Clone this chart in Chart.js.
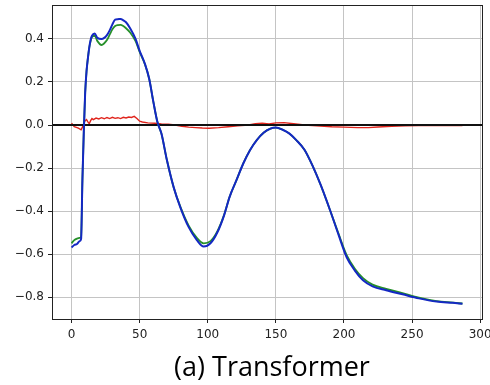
<!DOCTYPE html>
<html>
<head>
<meta charset="utf-8">
<script src="https://cdn.jsdelivr.net/npm/chart.js@4/dist/chart.umd.min.js"></script>
<style>
  html, body { margin: 0; padding: 0; background: #fff; overflow: hidden; }
  #wrap { position: relative; width: 490px; height: 385px; }
  #caption {
    position: absolute; left: 0; top: 351px; width: 544px;
    text-align: center; font-family: 'Open Sans', sans-serif;
    font-size: 27px; line-height: 30px; color: #000; white-space: nowrap;
  }
</style>
</head>
<body>
<div id="wrap">
  <canvas id="lossChart"></canvas>
  <div id="caption"></div>
</div>
<script>
const xs = [0, 2, 4, 6, 7, 8, 9, 10, 11, 12,
  13, 14, 15, 17, 19, 22, 24, 26, 28, 30,
  32, 34, 36, 38, 40, 43, 47, 50, 54, 57,
  60, 63, 66, 70, 75, 80, 86, 92, 97, 102,
  107, 112, 116, 121, 126, 131, 136, 141, 146, 150,
  155, 160, 165, 171, 177, 183, 190, 196, 202, 208,
  214, 221, 231, 243, 255, 268, 280, 287];

const blueVals = [-0.57, -0.558, -0.553, -0.54, -0.53, -0.25, -0.03, 0.15, 0.25, 0.31,
  0.36, 0.395, 0.415, 0.425, 0.405, 0.40, 0.405, 0.418, 0.44, 0.468,
  0.49, 0.492, 0.493, 0.487, 0.478, 0.45, 0.40, 0.345, 0.282, 0.215,
  0.11, 0.015, -0.04, -0.163, -0.29, -0.385, -0.475, -0.535, -0.565, -0.55,
  -0.50, -0.42, -0.335, -0.258, -0.18, -0.117, -0.07, -0.036, -0.017, -0.012,
  -0.022, -0.04, -0.07, -0.115, -0.19, -0.28, -0.40, -0.51, -0.615, -0.677,
  -0.722, -0.75, -0.768, -0.787, -0.806, -0.821, -0.827, -0.831];

const greenVals = [-0.55, -0.535, -0.528, -0.525, -0.52, -0.25, -0.03, 0.15, 0.25, 0.31,
  0.36, 0.39, 0.41, 0.415, 0.39, 0.372, 0.38, 0.395, 0.42, 0.445,
  0.46, 0.465, 0.466, 0.46, 0.45, 0.43, 0.39, 0.34, 0.28, 0.215,
  0.11, 0.015, -0.04, -0.163, -0.29, -0.382, -0.468, -0.525, -0.55, -0.54,
  -0.495, -0.418, -0.335, -0.258, -0.18, -0.117, -0.07, -0.036, -0.017, -0.012,
  -0.022, -0.04, -0.07, -0.115, -0.19, -0.28, -0.40, -0.505, -0.605, -0.668,
  -0.712, -0.742, -0.762, -0.782, -0.803, -0.819, -0.826, -0.83];

const redXs = [0, 2, 4, 5, 7, 8, 9, 10, 11, 12,
  13, 14, 15, 16, 18, 20, 22, 24, 26, 28,
  30, 32, 34, 36, 38, 40, 42, 44, 46, 48,
  50, 52, 56, 61, 66, 71, 76, 81, 86, 91,
  96, 101, 108, 115, 122, 130, 135, 140, 145, 150,
  156, 163, 171, 180, 191, 200, 210, 218, 225, 235,
  245, 255, 265, 275, 287];

const redVals = [0.008, -0.008, -0.012, -0.015, -0.022, -0.01, 0.008, 0.02, 0.025, 0.015,
  0.006, 0.02, 0.03, 0.025, 0.032, 0.028, 0.034, 0.029, 0.035, 0.03,
  0.036, 0.031, 0.034, 0.03, 0.036, 0.033, 0.037, 0.035, 0.04, 0.03,
  0.018, 0.014, 0.01, 0.008, 0.005, 0.004, 0.0, -0.006, -0.01, -0.012,
  -0.014, -0.015, -0.012, -0.008, -0.004, 0.0, 0.006, 0.008, 0.005, 0.01,
  0.011, 0.006, 0.0, -0.004, -0.008, -0.01, -0.012, -0.012, -0.009, -0.006,
  -0.004, -0.003, -0.002, -0.002, -0.003];

const xTicks = [0, 50, 100, 150, 200, 250, 300];
const yTicks = [-0.8, -0.6, -0.4, -0.2, 0.0, 0.2, 0.4];
const xRange = [-14.35, 301.35];
const yRange = [-0.902, 0.558];
const zeroLine = [0, 0];
const titleText = '(a) Transformer';

document.getElementById('caption').textContent = titleText;

const pts = (xv, yv) => xv.map((x, i) => ({ x: x, y: yv[i] }));

// matplotlib style frame around the axes
const framePlugin = {
  id: 'frame',
  afterDraw(chart) {
    const a = chart.chartArea;
    const c = chart.ctx;
    c.save();
    c.strokeStyle = '#222';
    c.lineWidth = 1;
    c.strokeRect(Math.round(a.left) + 0.5, Math.round(a.top) + 0.5,
      Math.round(a.right - a.left), Math.round(a.bottom - a.top));
    c.restore();
  }
};

const tickFont = { family: 'DejaVu Sans', size: 12 };

new Chart(document.getElementById('lossChart'), {
  type: 'line',
  data: {
    datasets: [
      {
        label: 'blue',
        data: pts(xs, blueVals),
        borderColor: '#1428c4',
        borderWidth: 2,
        pointRadius: 0,
        cubicInterpolationMode: 'monotone',
        order: 1
      },
      {
        label: 'green',
        data: pts(xs, greenVals),
        borderColor: '#26902a',
        borderWidth: 1.8,
        pointRadius: 0,
        cubicInterpolationMode: 'monotone',
        order: 2
      },
      {
        label: 'zero',
        data: pts(xRange, zeroLine),
        borderColor: '#111',
        borderWidth: 2,
        pointRadius: 0,
        order: 3
      },
      {
        label: 'red',
        data: pts(redXs, redVals),
        borderColor: '#e0241c',
        borderWidth: 1.4,
        pointRadius: 0,
        tension: 0,
        order: 4
      }
    ]
  },
  options: {
    responsive: true,
    maintainAspectRatio: false,
    animation: false,
    layout: {
      padding: { left: 0, right: 8, top: 5, bottom: 38 }
    },
    plugins: {
      legend: { display: false },
      tooltip: { enabled: false },
      title: { display: false }
    },
    scales: {
      x: {
        type: 'linear',
        min: xRange[0],
        max: xRange[1],
        afterBuildTicks: s => { s.ticks = xTicks.map(v => ({ value: v })); },
        afterFit: s => { s.height = 28; s.paddingLeft = 0; s.paddingRight = 0; },
        ticks: {
          color: '#222',
          font: tickFont,
          padding: 5,
          maxRotation: 0,
          callback: v => String(v)
        },
        grid: {
          color: '#c4c4c4',
          lineWidth: 1,
          tickColor: '#222',
          tickLength: 4
        },
        border: { display: false }
      },
      y: {
        type: 'linear',
        min: yRange[0],
        max: yRange[1],
        afterBuildTicks: s => { s.ticks = yTicks.map(v => ({ value: v })); },
        afterFit: s => { s.width = 52; s.paddingTop = 0; s.paddingBottom = 0; },
        ticks: {
          color: '#222',
          font: tickFont,
          padding: 4,
          callback: v => v.toFixed(1).replace('-', '\u2212')
        },
        grid: {
          color: '#c4c4c4',
          lineWidth: 1,
          tickColor: '#222',
          tickLength: 4
        },
        border: { display: false }
      }
    }
  },
  plugins: [framePlugin]
});
</script>
</body>
</html>
